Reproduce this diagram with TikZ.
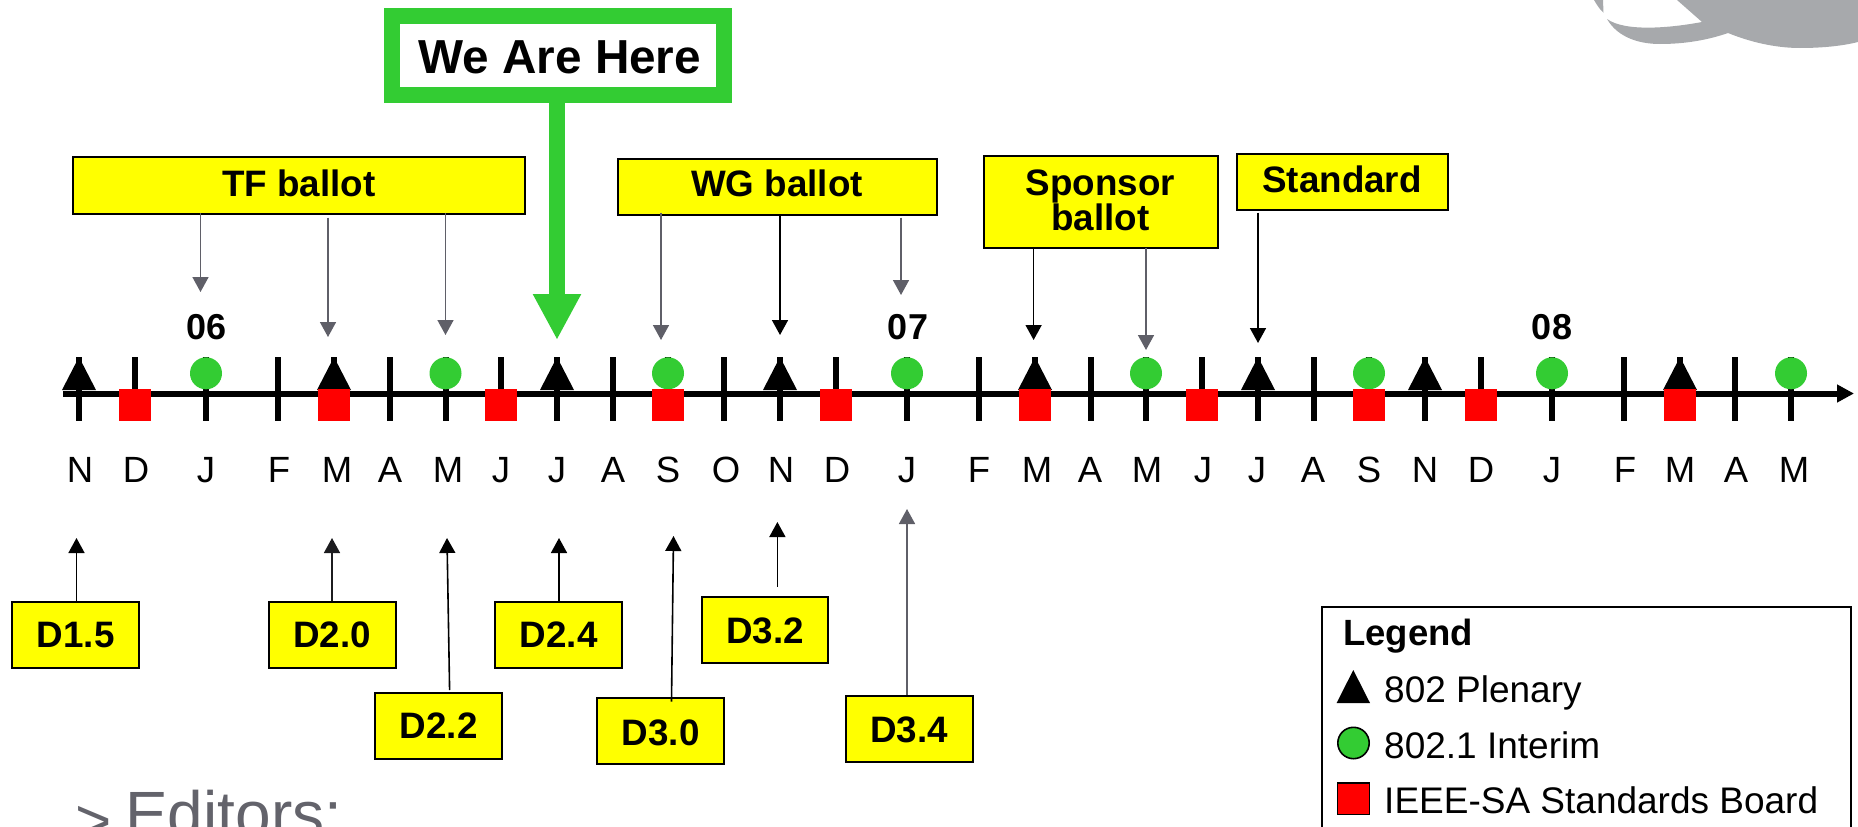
\documentclass[tikz,border=0pt]{standalone}
\usepackage{fontspec}
\setmainfont{Liberation Sans}
\usetikzlibrary{arrows.meta}
\definecolor{mygreen}{HTML}{33CC33}
\definecolor{boxyellow}{HTML}{FFFF00}
\definecolor{myred}{HTML}{FF0000}
\definecolor{arrowgray}{HTML}{5F5F68}
\definecolor{logogray}{HTML}{A7A9AC}
\definecolor{editgray}{HTML}{63636B}
\tikzset{
  ybox/.style n args={3}{draw=black,line width=2pt,fill=boxyellow,inner sep=0pt,
    minimum width=#1pt,minimum height=#2pt,text height=#3pt,text depth=0pt,
    font=\fontsize{36.8}{35}\selectfont\bfseries,align=center},
  blackarrow/.style={draw=black,line width=1.6pt,-{Triangle[width=16pt,length=15pt]}},
  grayarrow/.style={draw=arrowgray,line width=1.6pt,-{Triangle[width=16pt,length=15pt]}},
  monthlabel/.style={font=\fontsize{36.5}{36.5}\selectfont,anchor=base,inner sep=0pt},
  yearlabel/.style={font=\fontsize{36}{36}\selectfont\bfseries,anchor=base,inner sep=0pt},
  legendtext/.style={font=\fontsize{37}{37}\selectfont,anchor=base west,inner sep=0pt},
}
\begin{document}
\begin{tikzpicture}[x=1pt,y=-1pt]
\useasboundingbox (0,0) rectangle (1858,827);
\clip (0,0) rectangle (1858,827);
% logo
\fill[logogray] (1677,0) -- (1702,22) .. controls (1670,28) and (1625,32) .. (1607,19)
  .. controls (1618,38) and (1640,44) .. (1660,44)
  .. controls (1685,44) and (1708,40) .. (1728,33)
  .. controls (1755,44) and (1780,48) .. (1800,48)
  .. controls (1822,48) and (1842,46) .. (1858,42) -- (1858,0) -- cycle;
\fill[logogray] (1594,0) .. controls (1597,5) and (1600,10) .. (1603.5,12.5) -- (1603,0) -- cycle;
% ticks
\foreach \t in {79,135,206,278,334,390,445.5,501,557,613,668,724,780,836,907,979,1035,1090.5,1146,1202,1258,1313.5,1369,1425,1481,1552,1624,1680,1735,1791}
  \fill[black] (\t-3,357) rectangle (\t+3,421);
% axis
\coordinate (axisstart) at (63,393.5);
\coordinate (axisend) at (1854,393.5);
\draw[line width=6pt,-{Triangle[width=17pt,length=17pt]}] (axisstart) -- (axisend);
% markers
\foreach \t in {79,334,557,780,1035,1258,1425,1680}
  \fill[black] (\t-17,390) -- (\t,357) -- (\t+17,390) -- cycle;
\foreach \t in {206,445.5,668,907,1146,1369,1552,1791}
  \fill[mygreen] (\t,373.3) circle (16);
\foreach \t in {135,334,501,668,836,1035,1202,1369,1481,1680}
  \fill[myred] (\t-16,389) rectangle (\t+16,421);
% years
\node[yearlabel] (y06) at (207,339) {06};
\node[yearlabel] (y07) at (908,339) {07};
\node[yearlabel] (y08) at (1552,339) {08};
% months
\foreach \n/\t/\l in {m1/80/N,m2/136/D,m3/206/J,m4/279/F,m5/337/M,m6/390/A,m7/448/M,m8/501/J,m9/557/J,m10/613/A,m11/668/S,m12/726/O,m13/781/N,m14/837/D,m15/907/J,m16/979/F,m17/1037/M,m18/1090/A,m19/1147/M,m20/1203/J,m21/1257/J,m22/1313/A,m23/1369/S,m24/1425/N,m25/1481/D,m26/1552/J,m27/1625/F,m28/1680/M,m29/1736/A,m30/1794/M}
  \node[monthlabel] (\n) at (\t,482) {\l};
% We Are Here
\node[draw=mygreen,line width=16pt,fill=white,inner sep=0pt,minimum width=331.5pt,minimum height=79pt,
  text height=35pt,text depth=0pt,font=\fontsize{47.7}{47.7}\selectfont\bfseries] (wah) at (557.75,55.5) {\hspace*{4pt}We Are Here};
\coordinate (wahtip) at (557,340);
\draw[draw=mygreen,line width=16pt,-{Triangle[width=45pt,length=46pt]}] (wah.south -| wahtip) -- (wahtip);
% ballots
\node[ybox={452.5}{57}{22}] (tf) at (299,185) {TF ballot};
\node[ybox={319}{56}{20}] (wg) at (777,186.5) {WG ballot};
\node[ybox={234}{92}{57}] (sp) at (1100.5,201.5) {Sponsor\\ballot};
\node[ybox={211}{56}{21}] (st) at (1342,181.5) {Standard};
\foreach \n/\x/\y in {a1/200.5/292,a2/328/337,a3/445.5/335,a4/661/340,a6/901/295,a8/1146/350}
  \coordinate (\n) at (\x,\y);
\foreach \n/\x/\y in {a5/780/335,a7/1033.6/340,a9/1258/343}
  \coordinate (\n) at (\x,\y);
\draw[grayarrow] ([yshift=2pt]tf.south -| a1) -- (a1);
\draw[grayarrow] ([yshift=-3pt]tf.south -| a2) -- (a2);
\draw[grayarrow] ([yshift=2pt]tf.south -| a3) -- (a3);
\draw[grayarrow] ([yshift=3pt]wg.south -| a4) -- (a4);
\draw[blackarrow] (wg.south -| a5) -- (a5);
\draw[grayarrow] ([yshift=-2pt]wg.south -| a6) -- (a6);
\draw[blackarrow] (sp.south -| a7) -- (a7);
\draw[grayarrow] ([yshift=1pt]sp.south -| a8) -- (a8);
\draw[blackarrow] ([yshift=-2pt]st.south -| a9) -- (a9);
% drafts
\node[ybox={127}{66}{26}] (d15) at (75.75,634.5) {D1.5};
\node[ybox={127}{66}{26}] (d20) at (332.25,634.5) {D2.0};
\node[ybox={127}{66}{26}] (d24) at (558.75,634.5) {D2.4};
\node[ybox={126}{66}{26}] (d32) at (765,630) {D3.2};
\node[ybox={127}{66}{25}] (d22) at (438.75,725.5) {D2.2};
\node[ybox={127}{66}{28}] (d30) at (660.75,731) {D3.0};
\node[ybox={127}{66}{27.4}] (d34) at (909,729) {D3.4};
\coordinate (t15) at (76.5,538);
\coordinate (t20) at (332,538);
\coordinate (t22) at (447,538);
\coordinate (s22) at (449.6,690);
\coordinate (t24) at (559,538);
\coordinate (t30) at (673.5,536);
\coordinate (s30) at (671.5,701.7);
\coordinate (t32) at (777.4,522);
\coordinate (s32) at (777.4,586.7);
\coordinate (t34) at (907,509);
\draw[blackarrow] (d15.north -| t15) -- (t15);
\draw[blackarrow,draw=black!70!arrowgray] (d20.north -| t20) -- (t20);
\draw[blackarrow] (s22) -- (t22);
\draw[blackarrow] (d24.north -| t24) -- (t24);
\draw[blackarrow] (s30) -- (t30);
\draw[blackarrow] (s32) -- (t32);
\draw[grayarrow] (d34.north -| t34) -- (t34);
% legend
\node[draw=black,line width=2pt,inner sep=0pt,minimum width=529pt,minimum height=260pt,anchor=north west] (legend) at (1321,606) {};
\node[legendtext,font=\fontsize{36.5}{36.5}\selectfont\bfseries] (lgtitle) at (1343,645) {Legend};
\fill[black] (1336.6,703) -- (1353.3,670) -- (1370,703) -- cycle;
\node[legendtext] (lgplen) at (1384,702.7) {802 Plenary};
\filldraw[fill=mygreen,draw=black,line width=1.6pt] (1353.5,743) circle (15.7);
\node[legendtext] (lgint) at (1384,758) {802.1 Interim};
\filldraw[fill=myred,draw=black,line width=1.6pt] (1337.4,782.8) rectangle (1369.6,814.5);
\node[legendtext] (lgstd) at (1384,813) {IEEE-SA Standards Board};
% editors
\node[font=\fontsize{62}{62}\selectfont,text=editgray,anchor=base west,inner sep=0pt] (gt) at (75,842) {>};
\node[font=\fontsize{64}{64}\selectfont,text=editgray,anchor=base west,inner sep=0pt] (ed) at (125,836) {Editors:};
\end{tikzpicture}
\end{document}
